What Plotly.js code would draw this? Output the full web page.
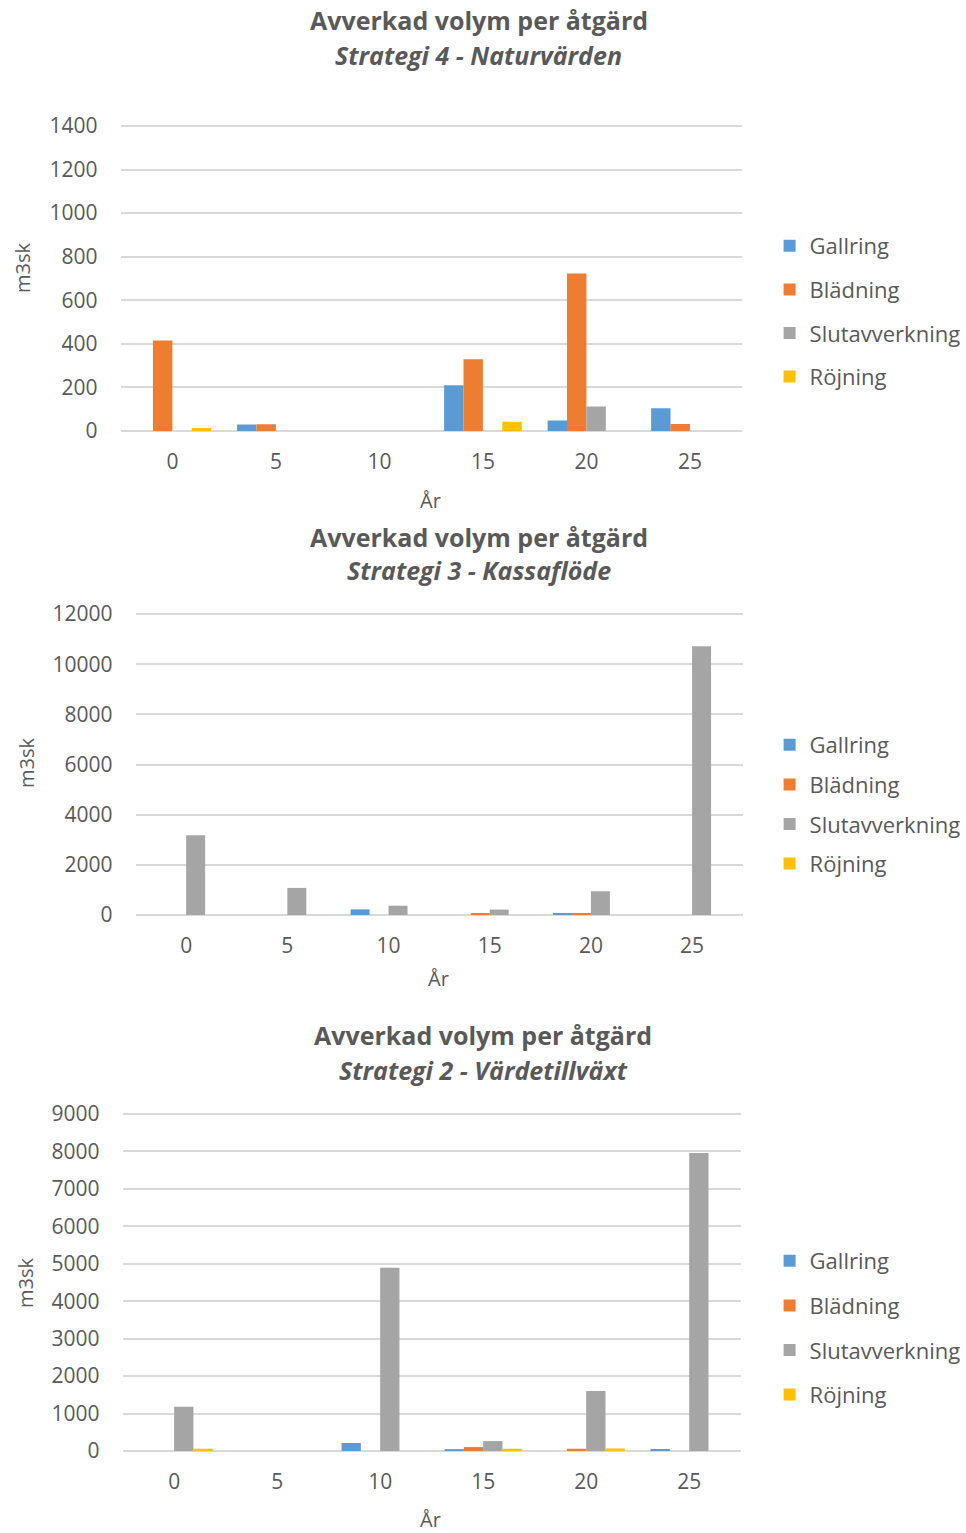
<!DOCTYPE html>
<html>
<head>
<meta charset="utf-8">
<script src="https://cdn.plot.ly/plotly-3.0.1.min.js"></script>
<style>html,body{margin:0;padding:0;background:#fff;}#chart{width:966px;height:1533px;}</style>
</head>
<body>
<div id="chart"></div>
<script>
// ---- data ----
const categories = ["0", "5", "10", "15", "20", "25"];
const seriesNames = ["Gallring", "Blädning", "Slutavverkning", "Röjning"];

// Strategi 4 - Naturvärden
const s4Gallring = [0, 30, 0, 210, 48, 104];
const s4Bladning = [415, 31, 0, 329, 723, 32];
const s4Slut = [0, 0, 0, 0, 113, 0];
const s4Rojning = [14, 0, 0, 43, 0, 0];

// Strategi 3 - Kassaflöde
const s3Gallring = [0, 0, 225, 0, 80, 0];
const s3Bladning = [0, 0, 0, 80, 80, 0];
const s3Slut = [3180, 1080, 370, 215, 945, 10710];
const s3Rojning = [0, 0, 0, 0, 0, 0];

// Strategi 2 - Värdetillväxt
const s2Gallring = [0, 0, 214, 50, 0, 55];
const s2Bladning = [0, 0, 0, 105, 58, 0];
const s2Slut = [1185, 0, 4895, 265, 1605, 7960];
const s2Rojning = [58, 0, 0, 58, 65, 0];

const titleLine1 = "Avverkad volym per åtgärd";
const subtitles = ["Strategi 4 - Naturvärden", "Strategi 3 - Kassaflöde", "Strategi 2 - Värdetillväxt"];
const yTitle = "m3sk";
const xTitle = "År";

// ---- styling ----
const W = 966, H = 1533;
const colors = ["#5B9BD5", "#ED7D31", "#A5A5A5", "#FFC000"];
const txt = "#595959";
const FONT = "Open Sans, Arial, sans-serif";
const px = x => x / W;
const py = y => 1 - y / H;
const EXT = 1.03; // extra headroom so the top gridline is drawn

const charts = [
  {data: [s4Gallring, s4Bladning, s4Slut, s4Rojning], xd: [121, 744], y0: 431, ytop: 126, ymax: 1400, dtick: 200,
   t1: 20, t2: 55, tx: 480, legTop: 225, gap: 12, yt: [22, 268], xt: [432, 500]},
  {data: [s3Gallring, s3Bladning, s3Slut, s3Rojning], xd: [136, 745], y0: 915, ytop: 614, ymax: 12000, dtick: 2000,
   t1: 537, t2: 570, tx: 480, legTop: 724, gap: 8, yt: [27, 763], xt: [440, 978]},
  {data: [s2Gallring, s2Bladning, s2Slut, s2Rojning], xd: [123, 743], y0: 1451, ytop: 1114, ymax: 9000, dtick: 1000,
   t1: 1035, t2: 1070, tx: 485, legTop: 1240, gap: 13, yt: [25, 1283], xt: [432, 1519]}
];

const traces = [];
const layout = {
  width: W, height: H,
  margin: {l: 0, r: 0, t: 0, b: 0},
  paper_bgcolor: "#ffffff", plot_bgcolor: "#ffffff",
  barmode: "group", bargap: 0.25, bargroupgap: 0,
  font: {family: FONT, color: txt, size: 21},
  annotations: []
};

charts.forEach((c, i) => {
  const n = i === 0 ? "" : String(i + 1);
  const legName = "legend" + n;
  c.data.forEach((vals, k) => {
    traces.push({
      type: "bar", x: categories, y: vals, name: seriesNames[k],
      marker: {color: colors[k]},
      xaxis: "x" + n, yaxis: "y" + n,
      legend: legName, legendgroup: "c" + i + "s" + k,
      hoverinfo: "x+y+name"
    });
  });
  const topPix = c.y0 - (c.y0 - c.ytop) * EXT;
  layout["xaxis" + n] = {
    domain: [px(c.xd[0]), px(c.xd[1])], anchor: "y" + n,
    type: "category", showgrid: false, zeroline: false,
    showline: false, ticks: "", ticklabelstandoff: 16,
    tickfont: {family: FONT, size: 21, color: txt}, fixedrange: true
  };
  layout["yaxis" + n] = {
    domain: [py(c.y0), py(topPix)], anchor: "x" + n,
    range: [0, c.ymax * EXT], tickvals: Array.from({length: Math.round(c.ymax / c.dtick) + 1}, (_, j) => j * c.dtick),
    tickformat: "d",
    showgrid: true, gridcolor: "#d9d9d9", gridwidth: 1.5,
    zeroline: true, zerolinecolor: "#d9d9d9", zerolinewidth: 1.5,
    showline: false, ticks: "", ticklabelstandoff: 22,
    tickfont: {family: FONT, size: 21, color: txt}, fixedrange: true
  };
  layout[legName] = {
    x: px(772), xanchor: "left", y: py(c.legTop), yanchor: "top",
    bgcolor: "rgba(0,0,0,0)", font: {family: FONT, size: 22, color: txt},
    traceorder: "grouped", tracegroupgap: c.gap, itemwidth: 30
  };
  layout.annotations.push(
    {text: "<b>" + titleLine1 + "</b>", x: px(c.tx), y: py(c.t1), xref: "paper", yref: "paper",
     xanchor: "center", yanchor: "middle", showarrow: false, font: {family: FONT, size: 25, color: txt}},
    {text: "<b><i>" + subtitles[i] + "</i></b>", x: px(c.tx), y: py(c.t2), xref: "paper", yref: "paper",
     xanchor: "center", yanchor: "middle", showarrow: false, font: {family: FONT, size: 25, color: txt}},
    {text: yTitle, x: px(c.yt[0]), y: py(c.yt[1]), xref: "paper", yref: "paper", textangle: -90,
     xanchor: "center", yanchor: "middle", showarrow: false, font: {family: FONT, size: 20, color: txt}},
    {text: xTitle, x: px(c.xt[0]), y: py(c.xt[1]), xref: "paper", yref: "paper",
     xanchor: "center", yanchor: "middle", showarrow: false, font: {family: FONT, size: 20, color: txt}}
  );
});

Plotly.newPlot("chart", traces, layout, {displayModeBar: false});
</script>
</body>
</html>
